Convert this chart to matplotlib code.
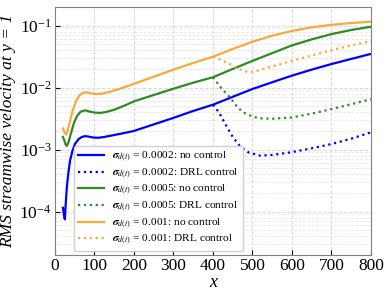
import matplotlib
matplotlib.use("Agg")
import matplotlib.pyplot as plt
import numpy as np

plt.rcParams['font.family'] = 'serif'
plt.rcParams['font.serif'] = ['Liberation Serif', 'DejaVu Serif']
plt.rcParams['mathtext.fontset'] = 'stix'

# ---- data ----
x_nc_blue = [20, 23, 25, 27, 30, 34, 38, 44, 51, 60, 68, 76, 85, 95, 109, 125, 150, 175, 200,
             250, 300, 350, 400, 450, 500, 550, 600, 650, 700, 750, 800]
y_nc_blue = [1.15e-4, 8.5e-5, 7.5e-5, 1.3e-4, 2.5e-4, 4.3e-4, 6.6e-4, 9.5e-4, 1.25e-3, 1.48e-3,
             1.6e-3, 1.65e-3, 1.62e-3, 1.57e-3, 1.55e-3, 1.6e-3, 1.72e-3, 1.85e-3, 2.0e-3,
             2.55e-3, 3.25e-3, 4.2e-3, 5.3e-3, 7.1e-3, 9.5e-3, 1.22e-2, 1.56e-2, 1.95e-2,
             2.4e-2, 2.9e-2, 3.5e-2]

x_nc_green = [20, 23, 27, 30, 34, 40, 48, 56, 65, 76, 88, 100, 115, 130, 150, 175, 200,
              250, 300, 350, 400, 450, 500, 550, 600, 650, 700, 750, 800]
y_nc_green = [1.6e-3, 1.45e-3, 1.2e-3, 1.15e-3, 1.3e-3, 1.8e-3, 2.7e-3, 3.5e-3, 4.1e-3, 4.3e-3,
              4.1e-3, 3.95e-3, 3.9e-3, 4.05e-3, 4.4e-3, 5.1e-3, 6.0e-3, 7.6e-3, 9.6e-3,
              1.2e-2, 1.47e-2, 2.0e-2, 2.7e-2, 3.6e-2, 4.8e-2, 6.0e-2, 7.3e-2, 8.5e-2, 9.6e-2]

x_nc_orange = [20, 24, 28, 32, 38, 45, 53, 62, 70, 78, 90, 105, 120, 140, 160, 200,
               250, 300, 350, 400, 450, 500, 550, 600, 650, 700, 750, 800]
y_nc_orange = [2.2e-3, 1.9e-3, 1.75e-3, 2.0e-3, 2.9e-3, 4.3e-3, 6.0e-3, 7.5e-3, 8.2e-3, 8.4e-3,
               8.1e-3, 7.9e-3, 8.0e-3, 8.6e-3, 9.4e-3, 1.15e-2, 1.5e-2, 1.95e-2, 2.5e-2,
               3.15e-2, 4.2e-2, 5.5e-2, 6.9e-2, 8.2e-2, 9.4e-2, 1.03e-1, 1.1e-1, 1.16e-1]

x_drl_blue = [400, 415, 434, 450, 468, 490, 519, 550, 600, 650, 700, 750, 800]
y_drl_blue = [5.3e-3, 4.0e-3, 2.4e-3, 1.6e-3, 1.15e-3, 9e-4, 8e-4, 8.2e-4, 9.1e-4, 1.05e-3,
              1.23e-3, 1.5e-3, 1.9e-3]

x_drl_green = [400, 420, 443, 460, 476, 500, 519, 550, 600, 650, 700, 750, 800]
y_drl_green = [1.47e-2, 1.0e-2, 6.9e-3, 5.0e-3, 4.0e-3, 3.4e-3, 3.2e-3, 3.15e-3, 3.3e-3,
               3.8e-3, 4.5e-3, 5.4e-3, 6.5e-3]

x_drl_orange = [400, 420, 443, 465, 489, 510, 550, 600, 650, 700, 750, 800]
y_drl_orange = [3.15e-2, 2.8e-2, 2.4e-2, 2.0e-2, 1.77e-2, 1.85e-2, 2.2e-2, 2.7e-2, 3.3e-2,
                4.0e-2, 4.8e-2, 5.6e-2]

sigmas = ['0.0002', '0.0005', '0.001']
blue = '#0000ff'
green = '#2e8b22'
orange = '#f7a93b'

fig = plt.figure(figsize=(3.86, 2.90), dpi=100)
ax = fig.add_axes([0.1425, 0.121, 0.8185, 0.855])

lab = r'$\boldsymbol{\sigma}_{d(t)}$'
ax.plot(x_nc_blue, y_nc_blue, color=blue, lw=1.6, label=lab + ' = ' + sigmas[0] + ': no control')
ax.plot(x_drl_blue, y_drl_blue, color=blue, lw=1.6, ls=':', label=lab + ' = ' + sigmas[0] + ': DRL control')
ax.plot(x_nc_green, y_nc_green, color=green, lw=1.6, label=lab + ' = ' + sigmas[1] + ': no control')
ax.plot(x_drl_green, y_drl_green, color=green, lw=1.6, ls=':', label=lab + ' = ' + sigmas[1] + ': DRL control')
ax.plot(x_nc_orange, y_nc_orange, color=orange, lw=1.6, label=lab + ' = ' + sigmas[2] + ': no control')
ax.plot(x_drl_orange, y_drl_orange, color=orange, lw=1.6, ls=':', label=lab + ' = ' + sigmas[2] + ': DRL control')

ax.set_yscale('log')
ax.set_xlim(0, 800)
ax.set_ylim(2e-5, 0.2)
ax.set_xticks(np.arange(0, 801, 100))
ax.grid(True, which='major', ls='--', color='#d8d8d8', lw=0.7)
ax.grid(True, which='minor', ls='--', color='#e6e6e6', lw=0.6)
ax.tick_params(which='both', direction='in', labelsize=12.5, pad=2.5)
ax.tick_params(which='minor', length=0)
for s in ax.spines.values():
    s.set_color('#808080')

ax.set_xlabel('x', fontstyle='italic', fontsize=13, labelpad=0)
ax.set_ylabel('RMS streamwise velocity at y = 1', fontstyle='italic', fontsize=12.5, labelpad=2)

ax.legend(loc='lower left', bbox_to_anchor=(0.06, 0.015), fontsize=8.2, handlelength=2.3,
          handletextpad=0.7, framealpha=1.0, edgecolor='#d0d0d0', borderpad=0.35,
          labelspacing=0.22, borderaxespad=0.0)

fig.savefig('out.png', dpi=100)
